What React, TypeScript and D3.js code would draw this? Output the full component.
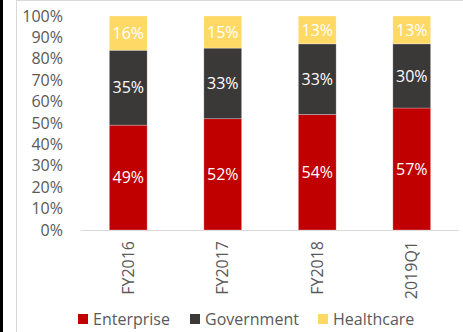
import React from "react";
import * as d3 from "d3";

const categories = ["FY2016", "FY2017", "FY2018", "2019Q1"];
const seriesNames = ["Enterprise", "Government", "Healthcare"];
const enterprise = [49, 52, 54, 57];
const government = [35, 33, 33, 30];
const healthcare = [16, 15, 13, 13];
const yTicks = [0, 10, 20, 30, 40, 50, 60, 70, 80, 90, 100];
const colors = ["#C00000", "#3B3838", "#FFD966"];

const FONT = "'Open Sans', sans-serif";
const FS = 16;

export default function App() {
  const W = 463, H = 332;
  const x = d3.scaleBand<string>().domain(categories).range([81, 459]).paddingInner(0.6).paddingOuter(0.3);
  const y = d3.scaleLinear().domain([0, 100]).range([230, 16]);
  const rows = categories.map((c, i) => ({ cat: c, Enterprise: enterprise[i], Government: government[i], Healthcare: healthcare[i] }));
  const stack = d3.stack<any>().keys(seriesNames)(rows);
  return (
    <svg width={W} height={H} style={{ position: "absolute", left: 0, top: 0, background: "#fff" }}>
      <rect x={0} y={0} width={W} height={H} fill="#fff" />
      <line x1={16.5} y1={0} x2={16.5} y2={H} stroke="#D9D9D9" />
      <line x1={16} y1={0.5} x2={W} y2={0.5} stroke="#D9D9D9" />
      <rect x={0} y={0} width={3} height={H} fill="#000" />
      {yTicks.map((t) => (
        <text key={t} x={63} y={y(t)} dy="0.35em" textAnchor="end" fontFamily={FONT} fontSize={FS} fill="#595959">
          {t}%
        </text>
      ))}
      <line x1={81} x2={459} y1={y(0) + 0.5} y2={y(0) + 0.5} stroke="#D9D9D9" />
      {stack.map((s, si) => (
        <g key={s.key}>
          {s.map((d, i) => {
            const x0 = x(categories[i])!;
            const y0 = y(d[1]);
            const h = y(d[0]) - y(d[1]);
            const v = d[1] - d[0];
            return (
              <g key={i}>
                <rect x={x0} y={y0} width={x.bandwidth()} height={h} fill={colors[si]} stroke="#ffffff" strokeOpacity={0.35} strokeWidth={0.75} />
                <text x={x0 + x.bandwidth() / 2} y={y0 + h / 2} dy="0.35em" textAnchor="middle" fontFamily={FONT} fontSize={FS} fill="#fff">
                  {v}%
                </text>
              </g>
            );
          })}
        </g>
      ))}
      {categories.map((c) => {
        const cx = x(c)! + x.bandwidth() / 2;
        return (
          <text key={c} transform={`translate(${cx},${241}) rotate(-90)`} dy="0.35em" textAnchor="end" fontFamily={FONT} fontSize={FS} fill="#595959">
            {c}
          </text>
        );
      })}
      {seriesNames.map((n, i) => {
        const lx = [78, 190, 318][i];
        return (
          <g key={n}>
            <rect x={lx} y={314} width={10} height={10} fill={colors[i]} />
            <text x={lx + 15} y={319} dy="0.35em" fontFamily={FONT} fontSize={FS} fill="#595959">
              {n}
            </text>
          </g>
        );
      })}
    </svg>
  );
}
